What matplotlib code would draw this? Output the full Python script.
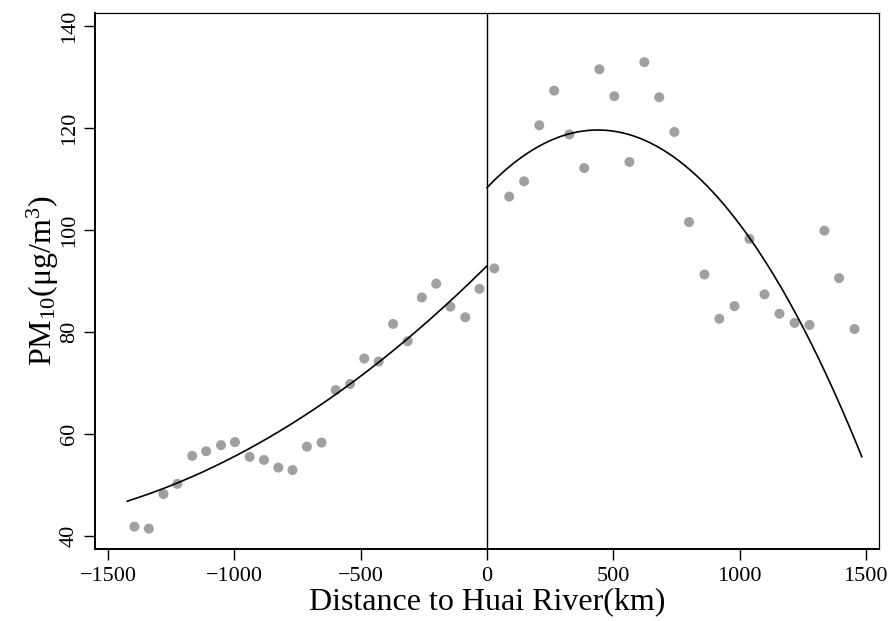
#  PM10 against distance to the Huai River, binned scatter with quadratic fits

import numpy as np
import matplotlib
matplotlib.use('Agg')
import matplotlib.pyplot as plt

plt.rcParams['font.family'] = ['Liberation Serif', 'DejaVu Serif']
plt.rcParams['mathtext.fontset'] = 'custom'
plt.rcParams['mathtext.rm'] = 'Liberation Serif'
plt.rcParams['mathtext.it'] = 'Liberation Serif:italic'

# binned means, south of the river (negative distance)
x_south = [-1396, -1339, -1281, -1226, -1167, -1112, -1053, -998, -940, -883,
           -826, -770, -713, -655, -599, -542, -486, -429, -372, -314,
           -258, -201, -145, -86, -30]
y_south = [41.8, 41.4, 48.2, 50.2, 55.7, 56.6, 57.8, 58.4, 55.5, 54.9,
           53.4, 52.9, 57.5, 58.3, 68.6, 69.8, 74.8, 74.2, 81.6, 78.2,
           86.8, 89.5, 85.0, 82.9, 88.5]

# binned means, north of the river (positive distance)
x_north = [29, 88, 147, 207, 266, 326, 385, 445, 504, 564,
           623, 682, 742, 800, 861, 920, 980, 1039, 1099, 1158,
           1218, 1277, 1336, 1394, 1455]
y_north = [92.5, 106.6, 109.6, 120.6, 127.4, 118.8, 112.2, 131.6, 126.3, 113.4,
           133.0, 126.1, 119.3, 101.6, 91.3, 82.6, 85.1, 98.3, 87.4, 83.6,
           81.8, 81.4, 99.9, 90.6, 80.6]

# fitted curves, points (fit was done on the raw data)
fit_x_south = [-1424, -542, 0]
fit_y_south = [46.8, 69.8, 93.0]
fit_x_north = [0, 442, 1039, 1484]
fit_y_north = [108.4, 119.6, 98.6, 55.5]

xticks = [-1500, -1000, -500, 0, 500, 1000, 1500]
yticks = [40, 60, 80, 100, 120, 140]

# quadratic through the read-off points on each side
c_s = np.polyfit(fit_x_south, fit_y_south, 2)
c_n = np.polyfit(fit_x_north, fit_y_north, 2)
xs = np.linspace(fit_x_south[0], fit_x_south[-1], 200)
xn = np.linspace(fit_x_north[0], fit_x_north[-1], 200)

fig = plt.figure(figsize=(8.93, 6.21), dpi=100)
ax = fig.add_axes([0.1064, 0.1159, 0.8779, 0.8636])

ax.scatter(x_south, y_south, s=52, color='#a0a0a0', edgecolors='none', zorder=2)
ax.scatter(x_north, y_north, s=52, color='#a0a0a0', edgecolors='none', zorder=2)
ax.plot(xs, np.polyval(c_s, xs), color='black', lw=1.2, zorder=3)
ax.plot(xn, np.polyval(c_n, xn), color='black', lw=1.2, zorder=3)
ax.axvline(0, color='black', lw=1.0, zorder=3)

ax.set_xlim(-1552, 1552)
ax.set_ylim(37.4, 142.7)
ax.set_xticks(xticks)
ax.set_yticks(yticks)
ax.set_yticklabels([str(v) for v in yticks], rotation=90, va='center')
ax.tick_params(direction='out', length=8, width=1.0, labelsize=16)
ax.tick_params(axis='x', pad=5)

for side in ['left', 'bottom']:
    ax.spines[side].set_linewidth(1.4)
for side in ['top', 'right']:
    ax.spines[side].set_linewidth(0.9)

ax.set_xlabel('Distance to Huai River(km)', fontsize=23, labelpad=1)
ax.set_ylabel(r'PM$_{10}$(μg/m$^{3}$)', fontsize=23, labelpad=-1)

fig.savefig('out.png', dpi=100)
